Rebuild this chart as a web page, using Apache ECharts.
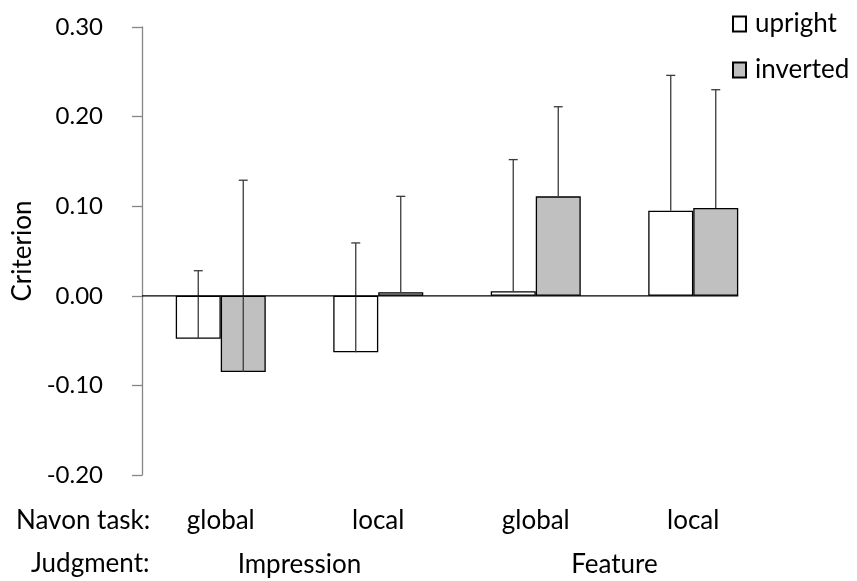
<!DOCTYPE html>
<html>
<head>
<meta charset="utf-8">
<script src="https://cdn.jsdelivr.net/npm/echarts@6/dist/echarts.min.js"></script>
<style>html,body{margin:0;padding:0;background:#fff;}#c{width:857px;height:581px;}</style>
</head>
<body>
<div id="c"></div>
<script>
// ---- data ----
const navonTasks = ['global', 'local', 'global', 'local'];
const judgments = ['Impression', 'Feature'];
const seriesNames = ['upright', 'inverted'];
const uprightMean = [-0.048, -0.063, 0.005, 0.095];
const uprightErr = [0.076, 0.122, 0.147, 0.151];
const invertedMean = [-0.085, 0.004, 0.111, 0.098];
const invertedErr = [0.214, 0.107, 0.100, 0.132];
const yTicks = { min: -0.2, max: 0.3, interval: 0.1 };

// ---- style ----
const FONT = 'Lato';
const FS = 26;
const FS_NUM = 24;
const FS_LEG = 26;
const BAR_W = 45;
const CAP = 9;

const chart = echarts.init(document.getElementById('c'));

function errorSeries(name, means, errs, offsetSign) {
  return {
    type: 'custom',
    name: name + ' err',
    xAxisIndex: 0,
    yAxisIndex: 0,
    z: 5,
    silent: true,
    data: means.map((m, i) => [i, m, m + errs[i]]),
    renderItem: function (params, api) {
      const lo = api.coord([api.value(0), api.value(1)]);
      const hi = api.coord([api.value(0), api.value(2)]);
      const x = lo[0] + offsetSign * BAR_W / 2;
      const st = { stroke: '#3a3a3a', lineWidth: 1.3 };
      return {
        type: 'group',
        children: [
          { type: 'line', shape: { x1: x, y1: lo[1], x2: x, y2: hi[1] }, style: st },
          { type: 'line', shape: { x1: x - CAP / 2, y1: hi[1], x2: x + CAP / 2, y2: hi[1] }, style: st }
        ]
      };
    }
  };
}

const option = {
  animation: false,
  textStyle: { fontFamily: FONT },
  grid: { left: 142, top: 27, right: 85, bottom: 106, containLabel: false },
  legend: {
    data: seriesNames,
    orient: 'vertical',
    left: 727,
    top: 6,
    itemWidth: 13,
    itemHeight: 15,
    itemGap: 20,
    icon: 'rect',
    textStyle: { fontFamily: FONT, fontSize: FS_LEG, color: '#000', padding: [0, 0, 0, 4] }
  },
  xAxis: [
    {
      type: 'category',
      data: navonTasks,
      position: 'bottom',
      axisLine: { show: false },
      axisTick: { show: false },
      axisLabel: { fontFamily: FONT, fontSize: FS, color: '#000', margin: 33 }
    },
    {
      type: 'category',
      data: judgments,
      position: 'bottom',
      offset: 45,
      axisLine: { show: false },
      axisTick: { show: false },
      axisLabel: { fontFamily: FONT, fontSize: FS, color: '#000', margin: 32 }
    }
  ],
  yAxis: {
    type: 'value',
    min: yTicks.min,
    max: yTicks.max,
    interval: yTicks.interval,
    name: 'Criterion',
    nameLocation: 'middle',
    nameGap: 106,
    nameRotate: 90,
    nameTextStyle: { fontFamily: FONT, fontSize: FS, color: '#000' },
    axisLine: { show: true, lineStyle: { color: '#868686', width: 1.3 } },
    axisTick: { show: true, inside: false, length: 10, lineStyle: { color: '#868686', width: 1.3 } },
    splitLine: { show: false },
    axisLabel: {
      fontFamily: FONT, fontSize: FS_NUM, color: '#000', margin: 39,
      formatter: v => v.toFixed(2)
    }
  },
  graphic: [
    { type: 'text', left: 16, top: 508, style: { text: 'Navon task:', font: FS + 'px ' + FONT, fill: '#000' } },
    { type: 'text', left: 31, top: 551, style: { text: 'Judgment:', font: FS + 'px ' + FONT, fill: '#000' } }
  ],
  series: [
    {
      type: 'bar',
      name: seriesNames[0],
      data: uprightMean,
      barWidth: BAR_W,
      barGap: 0,
      itemStyle: { color: '#ffffff', borderColor: '#000', borderWidth: 1.3 }
    },
    {
      type: 'bar',
      name: seriesNames[1],
      data: invertedMean,
      barWidth: BAR_W,
      barGap: 0,
      itemStyle: { color: '#c0c0c0', borderColor: '#000', borderWidth: 1.3 }
    },
    {
      type: 'custom',
      name: 'baseline',
      z: 6,
      silent: true,
      data: [[0, navonTasks.length - 1]],
      renderItem: function (params, api) {
        const first = api.coord([api.value(0), 0]);
        const last = api.coord([api.value(1), 0]);
        const band = api.size([1, 0])[0];
        return {
          type: 'line',
          shape: { x1: first[0] - band / 2, y1: first[1], x2: last[0] + BAR_W, y2: last[1] },
          style: { stroke: '#000', lineWidth: 1.3 }
        };
      }
    },
    errorSeries('upright', uprightMean, uprightErr, -1),
    errorSeries('inverted', invertedMean, invertedErr, 1)
  ]
};
chart.setOption(option);
</script>
</body>
</html>
